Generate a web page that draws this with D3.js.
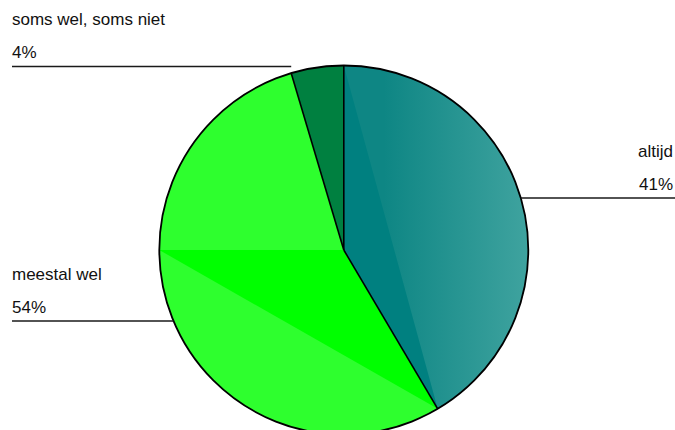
<!DOCTYPE html>
<html><head><meta charset="utf-8">
<script src="https://cdn.jsdelivr.net/npm/d3@7"></script>
<style>html,body{margin:0;padding:0;background:#fff;}svg{display:block;}</style>
</head><body>
<svg id="chart" width="675" height="430"></svg>
<script>
// ---- data ----
const categories = ["altijd", "meestal wel", "soms wel, soms niet"];
const values = [41.5, 53.9, 4.6];
const percentLabels = ["41%", "54%", "4%"];
const colors = ["#008080", "#00ff00", "#008040"];
const segmentColors = ["url(#tealShade)", "#2eff2e", "#008040"];

// ---- layout ----
const W = 675, H = 430;
const cx = 343.8, cy = 250, R = 184.5;
const labelLayout = [
  {side: "right", lineY: 198},
  {side: "left", lineY: 321},
  {side: "left", lineY: 66.5}
];

const svg = d3.select("#chart");
const defs = svg.append("defs");
const grad = defs.append("linearGradient").attr("id", "tealShade")
  .attr("gradientUnits", "userSpaceOnUse")
  .attr("x1", 40).attr("y1", 0).attr("x2", R).attr("y2", 0);
grad.append("stop").attr("offset", 0).attr("stop-color", "#0e8684");
grad.append("stop").attr("offset", 1).attr("stop-color", "#3fa39f");

const g = svg.append("g").attr("transform", `translate(${cx},${cy})`);

const pie = d3.pie().sort(null).value(d => d).startAngle(0).endAngle(2 * Math.PI);
const arcs = pie(values);
const arc = d3.arc().innerRadius(0).outerRadius(R);

const pt = a => [R * Math.sin(a), -R * Math.cos(a)];

// leader lines (behind pie)
labelLayout.forEach((L, i) => {
  const dy = L.lineY - cy;
  const half = Math.sqrt(Math.max(0, R * R - dy * dy));
  let x1, x2;
  if (L.side === "right") { x1 = cx + half; x2 = W; }
  else {
    x1 = 12;
    x2 = cx - half;
    if (i === 2) x2 = cx + pt(arcs[i].startAngle)[0];
  }
  svg.append("line").attr("x1", x1).attr("x2", x2).attr("y1", L.lineY).attr("y2", L.lineY)
    .attr("stroke", "#1a1a1a").attr("stroke-width", 1.7);
});

// slices
g.selectAll("path.slice").data(arcs).enter().append("path")
  .attr("class", "slice").attr("d", arc).attr("fill", (d, i) => colors[i]);

// lighter circular segments (chord to arc)
function segmentPath(a0, a1) {
  const p = d3.path();
  const s = pt(a0);
  p.moveTo(s[0], s[1]);
  p.arc(0, 0, R, a0 - Math.PI / 2, a1 - Math.PI / 2);
  p.closePath();
  return p.toString();
}
g.append("path").attr("d", segmentPath(arcs[0].startAngle, arcs[0].endAngle))
  .attr("fill", segmentColors[0]);
g.append("path").attr("d", segmentPath(arcs[1].startAngle, 1.5 * Math.PI))
  .attr("fill", segmentColors[1]);
g.append("path").attr("d", d3.arc().innerRadius(0).outerRadius(R)({startAngle: 1.5 * Math.PI, endAngle: arcs[1].endAngle}))
  .attr("fill", segmentColors[1]);

// slice boundaries
arcs.forEach(d => {
  const p = pt(d.startAngle);
  g.append("line").attr("x1", 0).attr("y1", 0).attr("x2", p[0]).attr("y2", p[1])
    .attr("stroke", "#000").attr("stroke-width", 1.6);
});
// outline
g.append("circle").attr("r", R).attr("fill", "none").attr("stroke", "#000").attr("stroke-width", 1.8);

// labels
labelLayout.forEach((L, i) => {
  const right = L.side === "right";
  const x = right ? 673 : 12;
  const anchor = right ? "end" : "start";
  const t = svg.append("g").attr("font-family", "Liberation Sans, Arial, sans-serif")
    .attr("font-size", 17).attr("fill", "#111").attr("text-anchor", anchor);
  t.append("text").attr("x", x).attr("y", L.lineY - 41.5).text(categories[i]);
  t.append("text").attr("x", x).attr("y", L.lineY - 8.5).text(percentLabels[i]);
});
</script>
</body></html>
